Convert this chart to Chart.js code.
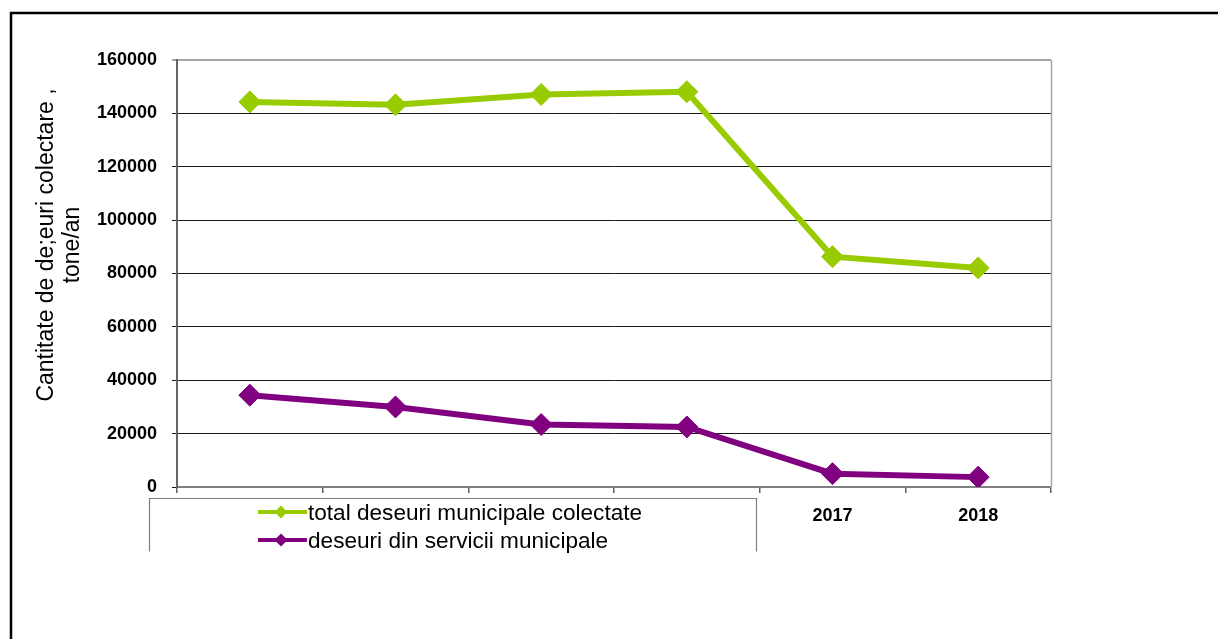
<!DOCTYPE html>
<html>
<head>
<meta charset="utf-8">
<script src="https://cdn.jsdelivr.net/npm/chart.js@4.4.1/dist/chart.umd.min.js"></script>
<style>
  html, body { margin: 0; padding: 0; background: #ffffff; }
  #wrap { width: 1218px; height: 639px; position: relative; }
</style>
</head>
<body>
<div id="wrap"><canvas id="c" width="1218" height="639"></canvas></div>
<script>
// ---- data ----
const categories = ['', '', '', '', '2017', '2018'];
const totalCollected = [144300, 143200, 147100, 148100, 86300, 82100];
const municipalServices = [34400, 30000, 23400, 22500, 5000, 3700];
const seriesNames = ['total deseuri municipale colectate', 'deseuri din servicii municipale'];
const yTitleLines = ['Cantitate de de;euri colectare ,', 'tone/an'];
const yMin = 0, yMax = 160000, yStep = 20000;

const GREEN = '#99CC00';
const PURPLE = '#800080';
const FONT = '"Liberation Sans", Arial, sans-serif';

const framePlugin = {
  id: 'frame',
  beforeDraw(chart) {
    const ctx = chart.ctx;
    ctx.save();
    ctx.fillStyle = '#ffffff';
    ctx.fillRect(0, 0, chart.width, chart.height);
    ctx.strokeStyle = '#000000';
    ctx.lineWidth = 2.5;
    ctx.beginPath();
    ctx.moveTo(11, chart.height);
    ctx.lineTo(11, 13);
    ctx.lineTo(chart.width, 13);
    ctx.stroke();
    ctx.restore();
  },
  afterDraw(chart) {
    const ctx = chart.ctx;
    const a = chart.chartArea;
    ctx.save();
    // right border of plot area
    ctx.strokeStyle = '#a6a6a6';
    ctx.lineWidth = 1.5;
    ctx.beginPath();
    ctx.moveTo(a.right + 0.5, a.top);
    ctx.lineTo(a.right + 0.5, a.bottom);
    ctx.stroke();

    // y axis title (two lines, rotated)
    ctx.fillStyle = '#000000';
    ctx.font = '23px ' + FONT;
    ctx.textAlign = 'center';
    ctx.textBaseline = 'alphabetic';
    ctx.translate(53, 245);
    ctx.rotate(-Math.PI / 2);
    yTitleLines.forEach((t, i) => ctx.fillText(t, 0, i * 26));
    ctx.restore();

    // legend box (covers the first category labels, as in the original)
    ctx.save();
    const bx = 149.5, by = 498.5, bw = 607, bh = 53;
    ctx.fillStyle = '#ffffff';
    ctx.fillRect(bx, by, bw, bh + 2);
    ctx.strokeStyle = '#808080';
    ctx.lineWidth = 1.2;
    ctx.beginPath();
    ctx.moveTo(bx, by + bh);
    ctx.lineTo(bx, by);
    ctx.lineTo(bx + bw, by);
    ctx.lineTo(bx + bw, by + bh);
    ctx.stroke();

    chart.data.datasets.forEach((ds, i) => {
      const cy = 512 + i * 28;
      ctx.strokeStyle = ds.borderColor;
      ctx.lineWidth = 4;
      ctx.beginPath();
      ctx.moveTo(258, cy);
      ctx.lineTo(307, cy);
      ctx.stroke();
      ctx.fillStyle = ds.borderColor;
      ctx.beginPath();
      ctx.moveTo(281, cy - 6.5);
      ctx.lineTo(287.5, cy);
      ctx.lineTo(281, cy + 6.5);
      ctx.lineTo(274.5, cy);
      ctx.closePath();
      ctx.fill();
      ctx.fillStyle = '#000000';
      ctx.font = '22.6px ' + FONT;
      ctx.textAlign = 'left';
      ctx.textBaseline = 'alphabetic';
      ctx.fillText(ds.label, 308, cy + 8);
    });
    ctx.restore();
  }
};

new Chart(document.getElementById('c'), {
  type: 'line',
  data: {
    labels: categories,
    datasets: [
      {
        label: seriesNames[0],
        data: totalCollected,
        borderColor: GREEN,
        backgroundColor: GREEN,
        borderWidth: 6,
        pointStyle: 'rectRot',
        pointRadius: 11,
        pointBorderWidth: 1,
        pointBackgroundColor: GREEN,
        pointBorderColor: GREEN,
        tension: 0
      },
      {
        label: seriesNames[1],
        data: municipalServices,
        borderColor: PURPLE,
        backgroundColor: PURPLE,
        borderWidth: 6,
        pointStyle: 'rectRot',
        pointRadius: 11,
        pointBorderWidth: 1,
        pointBackgroundColor: PURPLE,
        pointBorderColor: PURPLE,
        tension: 0
      }
    ]
  },
  options: {
    responsive: false,
    devicePixelRatio: 1,
    animation: false,
    layout: { padding: { left: 0, top: 60, right: 167, bottom: 0 } },
    plugins: {
      legend: { display: false },
      tooltip: { enabled: false },
      title: { display: false }
    },
    scales: {
      x: {
        type: 'category',
        offset: true,
        afterFit(scale) { scale.height = 152; },
        grid: {
          offset: true,
          drawOnChartArea: false,
          drawTicks: true,
          tickLength: 6,
          color: '#606060',
          lineWidth: 1.5
        },
        border: { display: true, color: '#808080', width: 2 },
        ticks: {
          color: '#000000',
          font: { family: FONT, size: 18, weight: 'bold' },
          padding: 12,
          maxRotation: 0,
          autoSkip: false
        }
      },
      y: {
        min: yMin,
        max: yMax,
        afterFit(scale) { scale.width = 177; },
        afterBuildTicks(scale) {
          const t = [];
          for (let v = yMin; v <= yMax; v += yStep) t.push({ value: v });
          scale.ticks = t;
        },
        grid: {
          drawTicks: true,
          tickLength: 5,
          color: (c) => (c.tick && c.tick.value === yMax) ? '#a6a6a6' : '#1a1a1a',
          lineWidth: (c) => (c.tick && c.tick.value === yMax) ? 2 : 1
        },
        border: { display: true, color: '#666666', width: 2 },
        ticks: {
          color: '#000000',
          font: { family: FONT, size: 18, weight: 'bold' },
          padding: 15,
          callback: (v) => String(v)
        }
      }
    }
  },
  plugins: [framePlugin]
});
</script>
</body>
</html>
